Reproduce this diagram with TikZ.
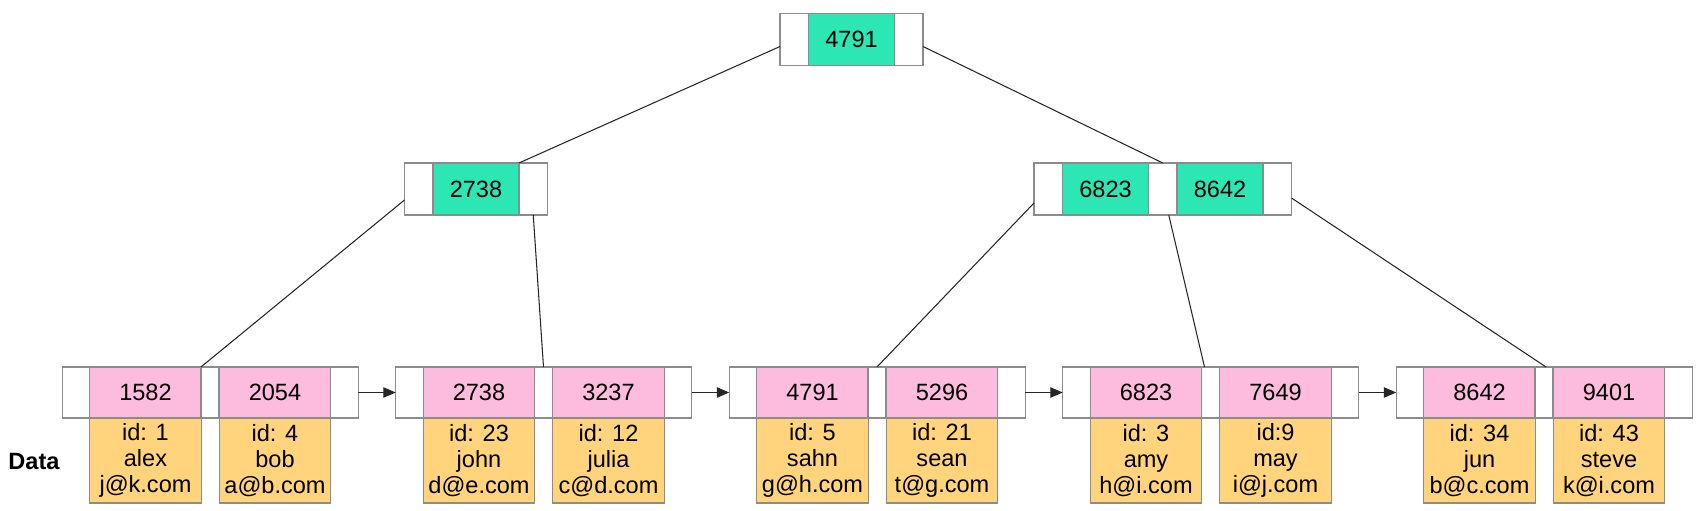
\documentclass[tikz,border=0pt]{standalone}
\usepackage{fontspec}
\setmainfont{Liberation Sans}
\usetikzlibrary{arrows.meta}
\definecolor{keygreen}{RGB}{44,230,180}
\definecolor{leafpink}{RGB}{253,187,222}
\definecolor{recyellow}{RGB}{255,212,125}
\definecolor{cellgray}{RGB}{140,140,140}
\begin{document}
\begin{tikzpicture}[
      font=\fontsize{13.4}{14.7}\selectfont,
      cell/.style={draw=cellgray, line width=.6pt, inner sep=0pt, outer sep=0pt,
                   minimum height=10.4mm},
      ptr/.style={cell, fill=white, minimum width=5.7mm},
      key/.style={cell, fill=keygreen, minimum width=17.2mm},
      lptr/.style={cell, fill=white, minimum width=5.5mm, minimum height=10.2mm},
      lgap/.style={cell, fill=white, minimum width=3.6mm, minimum height=10.2mm},
      leafkey/.style={cell, fill=leafpink, minimum width=22.3mm, minimum height=10.2mm},
      rec/.style={cell, fill=recyellow, minimum width=22.3mm, minimum height=17mm,
                  align=center},
      edge/.style={draw=black!85, line width=.6pt},
      next/.style={draw=black!85, line width=.6pt, -{Triangle[length=2.5mm,width=2.1mm]}}
    ]
    \useasboundingbox (0,0) rectangle (33.94,10.22);

    % Root node.
    \node[ptr] (rootl) at (15.885,9.43) {};
    \node[key] (rootk) at (17.03,9.43) {4791};
    \node[ptr] (rootr) at (18.175,9.43) {};

    % Internal nodes.
    \node[ptr] (l2al) at (8.375,6.44) {};
    \node[key] (l2ak) at (9.52,6.44) {2738};
    \node[ptr] (l2ar) at (10.665,6.44) {};

    \node[ptr] (l2bl) at (20.965,6.44) {};
    \node[key] (l2bk1) at (22.11,6.44) {6823};
    \node[ptr] (l2bm) at (23.255,6.44) {};
    \node[key] (l2bk2) at (24.40,6.44) {8642};
    \node[ptr] (l2br) at (25.545,6.44) {};

    % Leaf 1.
    \node[lptr] (aL) at (1.52,2.37) {};
    \node[leafkey] (a1) at (2.91,2.37) {1582};
    \node[lgap] (aM) at (4.20,2.37) {};
    \node[leafkey] (a2) at (5.50,2.37) {2054};
    \node[lptr] (aR) at (6.89,2.37) {};
    \node[rec] at (2.91,1.01) {id: 1\\alex\\j@k.com};
    \node[rec] at (5.50,1.01) {id: 4\\bob\\a@b.com};

    % Leaf 2.
    \node[lptr] (bL) at (8.19,2.37) {};
    \node[leafkey] (b1) at (9.58,2.37) {2738};
    \node[lgap] (bM) at (10.87,2.37) {};
    \node[leafkey] (b2) at (12.17,2.37) {3237};
    \node[lptr] (bR) at (13.56,2.37) {};
    \node[rec] at (9.58,1.01) {id: 23\\john\\d@e.com};
    \node[rec] at (12.17,1.01) {id: 12\\julia\\c@d.com};

    % Leaf 3.
    \node[lptr] (cL) at (14.86,2.37) {};
    \node[leafkey] (c1) at (16.25,2.37) {4791};
    \node[lgap] (cM) at (17.54,2.37) {};
    \node[leafkey] (c2) at (18.84,2.37) {5296};
    \node[lptr] (cR) at (20.23,2.37) {};
    \node[rec] at (16.25,1.01) {id: 5\\sahn\\g@h.com};
    \node[rec] at (18.84,1.01) {id: 21\\sean\\t@g.com};

    % Leaf 4.
    \node[lptr] (dL) at (21.53,2.37) {};
    \node[leafkey] (d1) at (22.92,2.37) {6823};
    \node[lgap] (dM) at (24.21,2.37) {};
    \node[leafkey] (d2) at (25.51,2.37) {7649};
    \node[lptr] (dR) at (26.90,2.37) {};
    \node[rec] at (22.92,1.01) {id: 3\\amy\\h@i.com};
    \node[rec] at (25.51,1.01) {id:9\\may\\i@j.com};

    % Leaf 5.
    \node[lptr] (eL) at (28.20,2.37) {};
    \node[leafkey] (e1) at (29.59,2.37) {8642};
    \node[lgap] (eM) at (30.88,2.37) {};
    \node[leafkey] (e2) at (32.18,2.37) {9401};
    \node[lptr] (eR) at (33.57,2.37) {};
    \node[rec] at (29.59,1.01) {id: 34\\jun\\b@c.com};
    \node[rec] at (32.18,1.01) {id: 43\\steve\\k@i.com};

    \node[font=\fontsize{13.4}{14.7}\selectfont\bfseries] (data) at (0.68,0.98) {Data};

    % Tree edges.
    \draw[edge] ([yshift=-1.4mm]rootl.west) -- (l2ar.north west);
    \draw[edge] ([yshift=-1.4mm]rootr.east) -- (l2bm.north);
    \draw[edge] ([yshift=-2.2mm]l2al.west) -- (aM.north west);
    \draw[edge] (l2ar.south) -- (bM.north);
    \draw[edge] ([yshift=-2.8mm]l2bl.west) -- (cM.north);
    \draw[edge] ([xshift=1.2mm]l2bm.south) -- ([xshift=.6mm]dM.north west);
    \draw[edge] ([yshift=-1.8mm]l2br.east) -- ([xshift=.4mm]eM.north);

    % Leaf links.
    \draw[next] (aR) -- (bL);
    \draw[next] (bR) -- (cL);
    \draw[next] (cR) -- (dL);
    \draw[next] (dR) -- (eL);
  \end{tikzpicture}
\end{document}
